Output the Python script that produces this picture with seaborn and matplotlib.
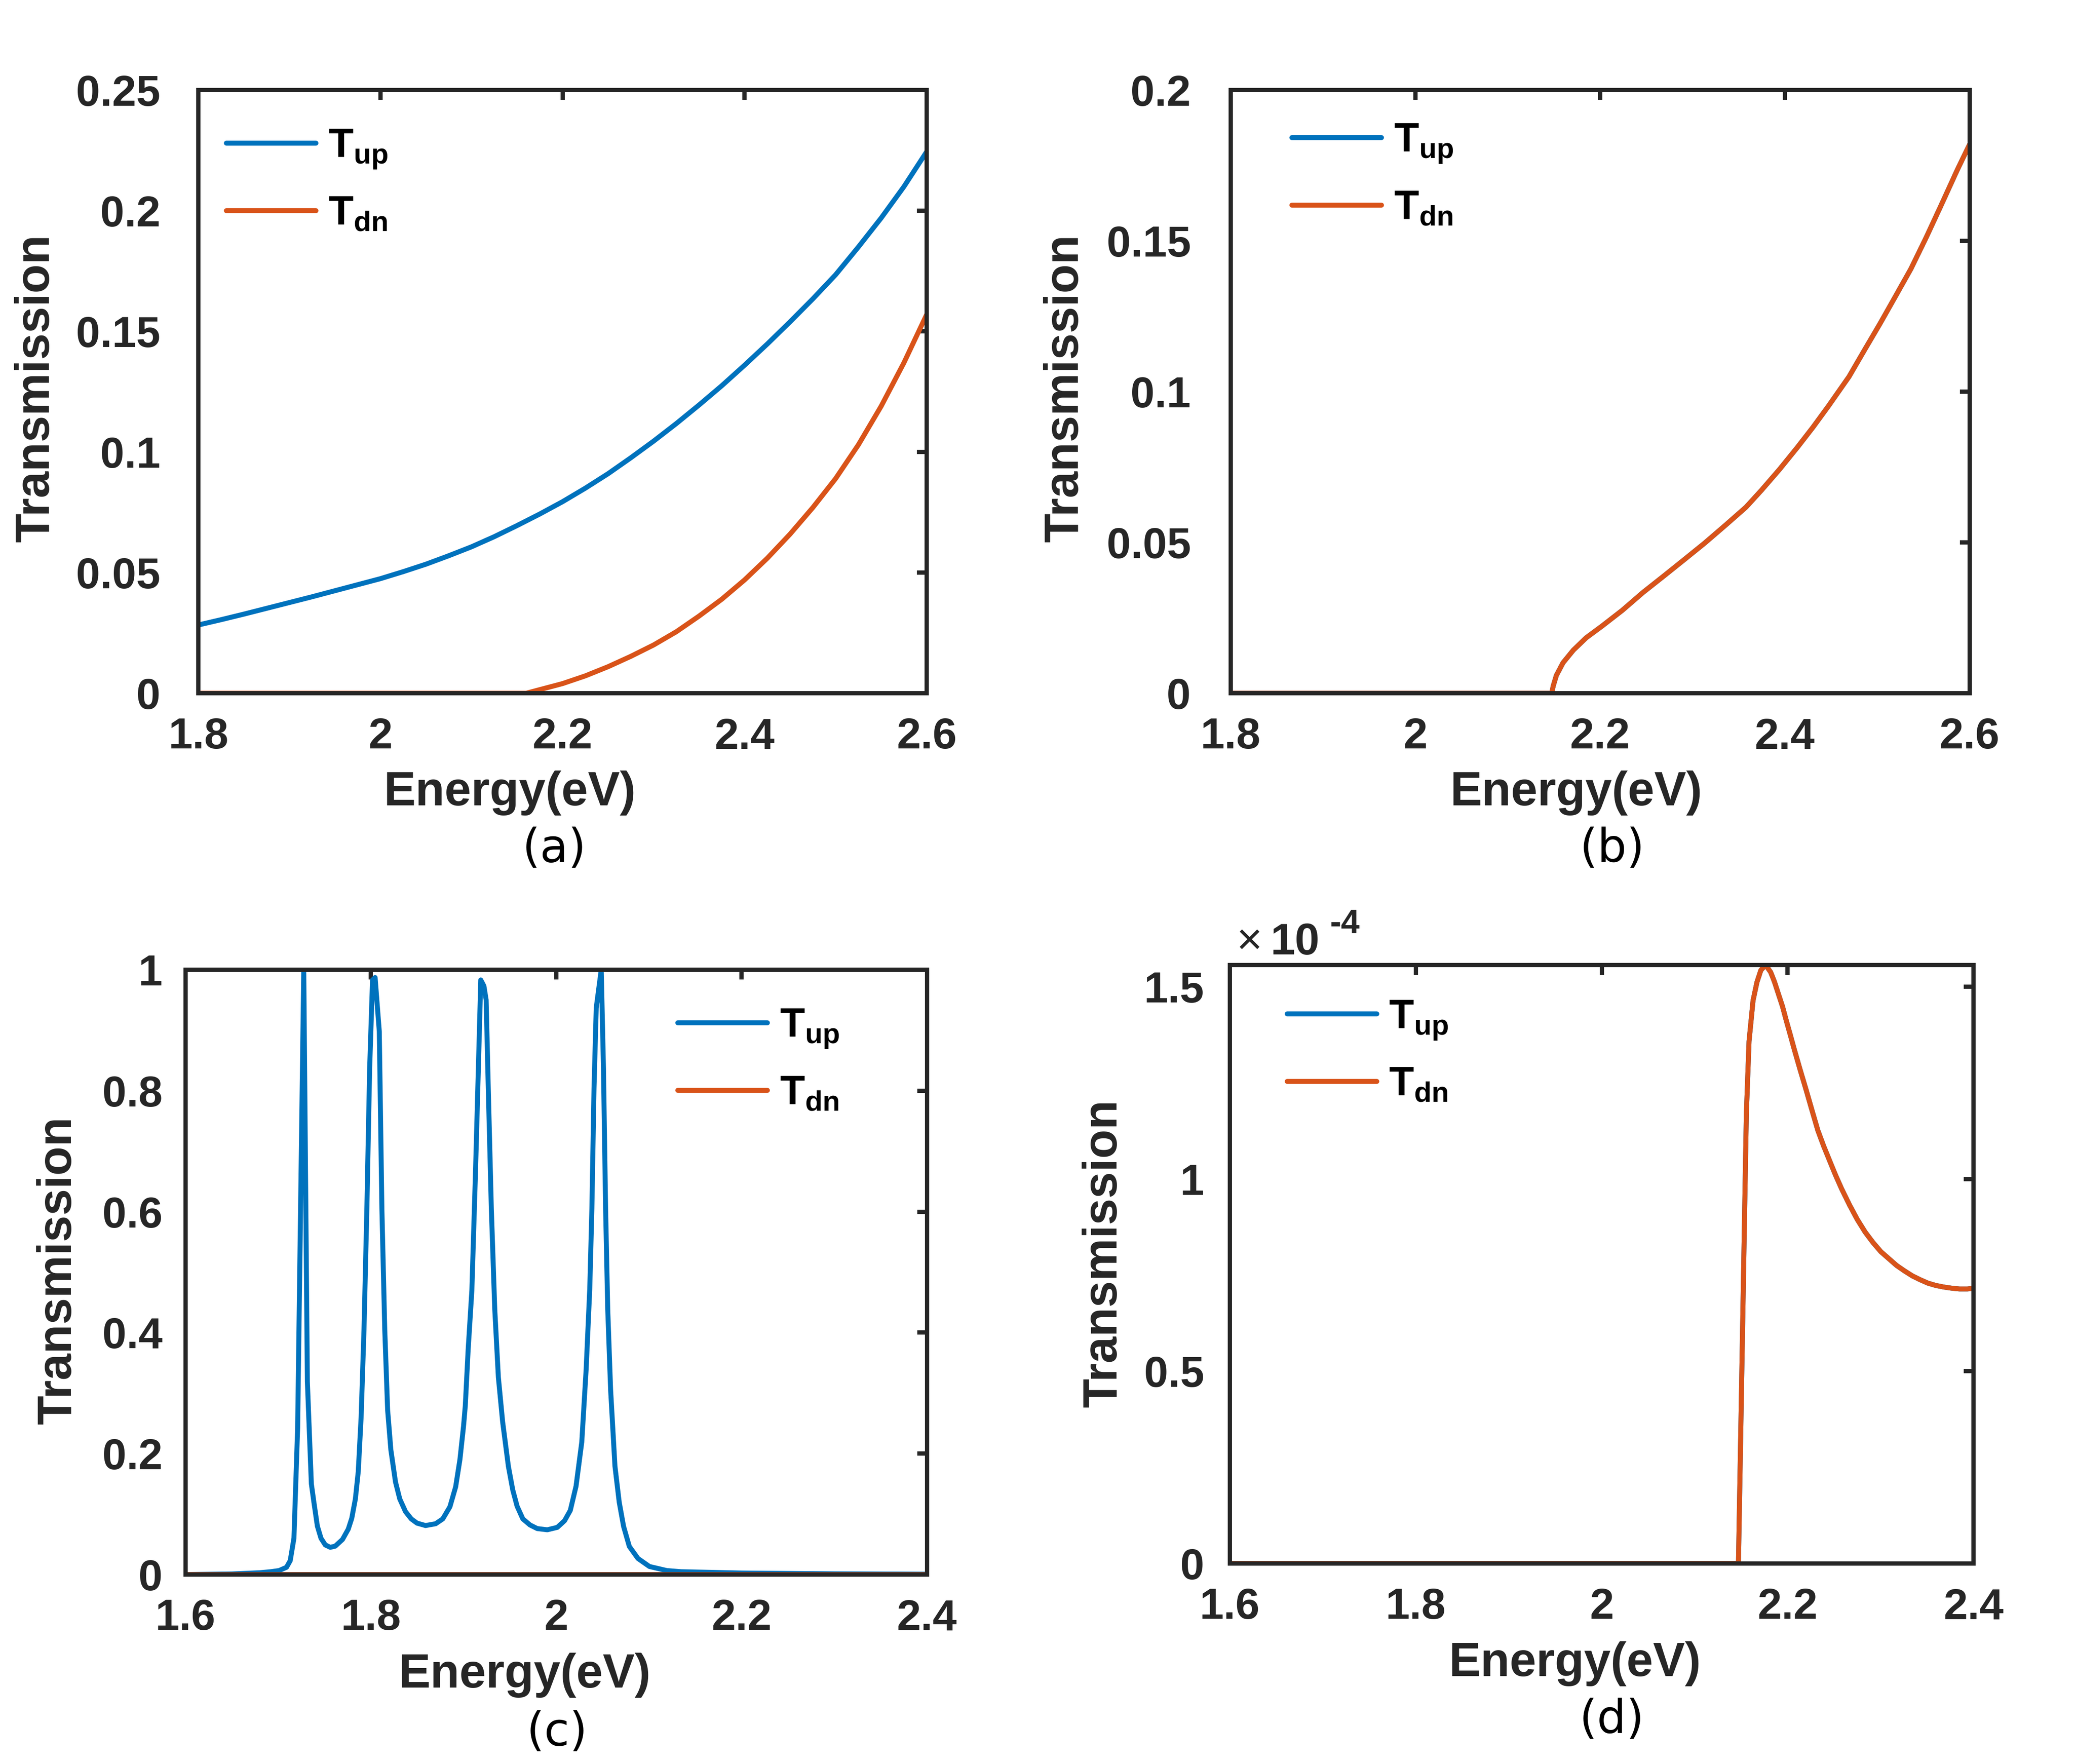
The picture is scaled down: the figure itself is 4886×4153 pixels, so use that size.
import matplotlib
matplotlib.use("Agg")
import matplotlib.pyplot as plt
import numpy as np
import pandas as pd
import seaborn as sns
from matplotlib.ticker import FuncFormatter

# ---- data ----
# (a) energy in eV, transmission
a_energy_up = [1.800, 1.825, 1.850, 1.875, 1.900, 1.925, 1.950, 1.975, 2.000, 2.025,
               2.050, 2.075, 2.100, 2.125, 2.150, 2.175, 2.200, 2.225, 2.250, 2.275,
               2.300, 2.325, 2.350, 2.375, 2.400, 2.425, 2.450, 2.475, 2.500, 2.525,
               2.550, 2.575, 2.600]
a_t_up = [0.0283, 0.0305, 0.0328, 0.0352, 0.0376, 0.0400, 0.0425, 0.0450, 0.0475, 0.0504,
          0.0535, 0.0570, 0.0607, 0.0649, 0.0695, 0.0743, 0.0794, 0.0850, 0.0910, 0.0976,
          0.1045, 0.1118, 0.1195, 0.1275, 0.1360, 0.1448, 0.1540, 0.1635, 0.1735, 0.1850,
          0.1970, 0.2100, 0.2245]
a_energy_dn = [1.800, 2.160, 2.175, 2.200, 2.225, 2.250, 2.275, 2.300, 2.325, 2.350,
               2.375, 2.400, 2.425, 2.450, 2.475, 2.500, 2.525, 2.550, 2.575, 2.600]
a_t_dn = [0.0, 0.0, 0.0015, 0.0040, 0.0072, 0.0110, 0.0153, 0.0200, 0.0255, 0.0320,
          0.0390, 0.0470, 0.0560, 0.0660, 0.0770, 0.0890, 0.1030, 0.1190, 0.1370, 0.1570]

# (b) both spins coincide
b_energy = [1.8000, 2.1476, 2.1492, 2.1526, 2.1598, 2.1710, 2.1849, 2.2017, 2.2240, 2.2463,
            2.2686, 2.2910, 2.3132, 2.3356, 2.3579, 2.3746, 2.3941, 2.4137, 2.4304, 2.4471,
            2.4695, 2.4862, 2.5029, 2.5197, 2.5364, 2.5531, 2.5699, 2.5866, 2.6000]
b_t_dn = [0.0, 0.0, 0.0024, 0.0059, 0.0101, 0.0143, 0.0184, 0.0222, 0.0275, 0.0334,
          0.0388, 0.0443, 0.0498, 0.0557, 0.0617, 0.0673, 0.0742, 0.0816, 0.0882, 0.0952,
          0.1050, 0.1138, 0.1225, 0.1316, 0.1407, 0.1512, 0.1623, 0.1735, 0.1820]
b_t_up = list(b_t_dn)

# (c) resonant peaks for spin up, spin down blocked
c_energy = [1.6000, 1.6500, 1.6800, 1.6920, 1.7010, 1.7090, 1.7130, 1.7170, 1.7210, 1.7276,
            1.7315, 1.7358, 1.7385, 1.7423, 1.7462, 1.7508, 1.7562, 1.7616, 1.7694, 1.7756,
            1.7794, 1.7833, 1.7864, 1.7895, 1.7926, 1.7957, 1.7987, 1.8018, 1.8046, 1.8091,
            1.8119, 1.8150, 1.8181, 1.8216, 1.8266, 1.8312, 1.8374, 1.8436, 1.8498, 1.8590,
            1.8699, 1.8776, 1.8853, 1.8915, 1.8961, 1.9000, 1.9019, 1.9050, 1.9090, 1.9130,
            1.9166, 1.9186, 1.9220, 1.9244, 1.9267, 1.9300, 1.9337, 1.9376, 1.9422, 1.9484,
            1.9531, 1.9578, 1.9640, 1.9717, 1.9795, 1.9904, 2.0012, 2.0090, 2.0152, 2.0214,
            2.0276, 2.0323, 2.0362, 2.0385, 2.0408, 2.0432, 2.0486, 2.0510, 2.0533, 2.0556,
            2.0587, 2.0634, 2.0680, 2.0727, 2.0789, 2.0882, 2.1006, 2.1193, 2.1348, 2.2000,
            2.3000, 2.4000]
c_t_up = [0.0000, 0.0010, 0.0030, 0.0047, 0.0066, 0.0120, 0.0230, 0.0600, 0.2425, 1.0000,
          0.3190, 0.1500, 0.1200, 0.0800, 0.0600, 0.0490, 0.0450, 0.0470, 0.0580, 0.0750,
          0.0930, 0.1250, 0.1700, 0.2600, 0.4050, 0.6050, 0.8370, 0.9830, 0.9870, 0.8980,
          0.6050, 0.4050, 0.2720, 0.2060, 0.1530, 0.1250, 0.1040, 0.0920, 0.0850, 0.0810,
          0.0840, 0.0920, 0.1120, 0.1450, 0.1900, 0.2450, 0.2790, 0.3720, 0.4700, 0.6700,
          0.8700, 0.9830, 0.9730, 0.9500, 0.8040, 0.6050, 0.4385, 0.3260, 0.2525, 0.1790,
          0.1400, 0.1130, 0.0920, 0.0820, 0.0760, 0.0740, 0.0780, 0.0890, 0.1060, 0.1460,
          0.2190, 0.3390, 0.4720, 0.6050, 0.8040, 0.9370, 1.0000, 0.8370, 0.6050, 0.4385,
          0.3056, 0.1790, 0.1196, 0.0797, 0.0465, 0.0266, 0.0133, 0.0066, 0.0047, 0.0025,
          0.0012, 0.0006]
c_energy_dn = [1.6, 2.4]
c_t_dn = [0.0, 0.0]

# (d) values in units of 1e-4, both spins coincide
d_energy = [1.6000, 2.1471, 2.1513, 2.1556, 2.1585, 2.1628, 2.1670, 2.1712, 2.1763, 2.1818,
            2.1860, 2.1903, 2.1945, 2.1987, 2.2030, 2.2072, 2.2135, 2.2199, 2.2262, 2.2326,
            2.2389, 2.2453, 2.2516, 2.2580, 2.2665, 2.2749, 2.2834, 2.2918, 2.3003, 2.3088,
            2.3173, 2.3257, 2.3342, 2.3426, 2.3511, 2.3596, 2.3680, 2.3765, 2.3850, 2.3934,
            2.4000]
d_t_dn = [0.000, 0.000, 0.576, 1.168, 1.358, 1.464, 1.512, 1.543, 1.557, 1.538,
          1.512, 1.480, 1.449, 1.411, 1.374, 1.337, 1.284, 1.232, 1.179, 1.126,
          1.085, 1.047, 1.010, 0.975, 0.933, 0.895, 0.862, 0.835, 0.811, 0.793,
          0.775, 0.761, 0.748, 0.738, 0.729, 0.723, 0.719, 0.716, 0.714, 0.714,
          0.716]
d_t_up = list(d_t_dn)

# ---- style ----
sns.set_style("white")
plt.rcParams["font.family"] = ["Liberation Sans", "DejaVu Sans"]
plt.rcParams["font.weight"] = "bold"
plt.rcParams["mathtext.fontset"] = "custom"
plt.rcParams["mathtext.bf"] = "Liberation Sans:bold"
plt.rcParams["mathtext.rm"] = "Liberation Sans:bold"

BLUE = "#0072BD"
ORANGE = "#D95319"
INK = "#262626"
LW = 2.8
UP = r"$\mathbf{T}_{\mathbf{up}}$"
DN = r"$\mathbf{T}_{\mathbf{dn}}$"

fig = plt.figure(figsize=(4886 / 300, 4153 / 300), dpi=300)
ax_a = fig.add_axes([0.0956, 0.6070, 0.3510, 0.3419])
ax_b = fig.add_axes([0.5931, 0.6070, 0.3561, 0.3419])
ax_c = fig.add_axes([0.0894, 0.1074, 0.3573, 0.3429])
ax_d = fig.add_axes([0.5927, 0.1137, 0.3584, 0.3393])


def draw(ax, x_up, y_up, x_dn, y_dn):
    sns.lineplot(x=x_up, y=y_up, color=BLUE, linewidth=LW, label=UP, ax=ax,
                 estimator=None, sort=False)
    sns.lineplot(x=x_dn, y=y_dn, color=ORANGE, linewidth=LW, label=DN, ax=ax,
                 estimator=None, sort=False)


def style(ax, xlim, ylim, xticks, yticks, legend_xy, ypad):
    ax.set_xlim(xlim)
    ax.set_ylim(ylim)
    ax.set_xticks(xticks)
    ax.set_yticks(yticks)
    fmt = FuncFormatter(lambda v, p: f"{v:g}")
    ax.xaxis.set_major_formatter(fmt)
    ax.yaxis.set_major_formatter(fmt)
    ax.tick_params(direction="in", length=5.5, width=2.4, color=INK,
                   labelcolor=INK, labelsize=24.5, top=True, right=True)
    ax.tick_params(axis="x", pad=13.5)
    ax.tick_params(axis="y", pad=ypad)
    for s in ax.spines.values():
        s.set_visible(True)
        s.set_linewidth(2.4)
        s.set_color(INK)
    ax.set_xlabel("")
    ax.set_ylabel("")
    leg = ax.legend(loc="upper left", bbox_to_anchor=legend_xy, frameon=False,
                    fontsize=23, handlelength=2.2, handletextpad=0.3,
                    labelspacing=0.6, borderpad=0, borderaxespad=0)
    for t in leg.get_texts():
        t.set_color("black")


draw(ax_a, a_energy_up, a_t_up, a_energy_dn, a_t_dn)
style(ax_a, (1.8, 2.6), (0, 0.25), [1.8, 2.0, 2.2, 2.4, 2.6],
      [0, 0.05, 0.10, 0.15, 0.20, 0.25], (0.0385, 0.938), 21.5)

draw(ax_b, b_energy, b_t_up, b_energy, b_t_dn)
style(ax_b, (1.8, 2.6), (0, 0.2), [1.8, 2.0, 2.2, 2.4, 2.6],
      [0, 0.05, 0.10, 0.15, 0.20], (0.083, 0.947), 22.5)

draw(ax_c, c_energy, c_t_up, c_energy_dn, c_t_dn)
style(ax_c, (1.6, 2.4), (0, 1), [1.6, 1.8, 2.0, 2.2, 2.4],
      [0, 0.2, 0.4, 0.6, 0.8, 1.0], (0.664, 0.938), 13)

draw(ax_d, d_energy, d_t_up, d_energy, d_t_dn)
style(ax_d, (1.6, 2.4), (0, 1.557), [1.6, 1.8, 2.0, 2.2, 2.4],
      [0, 0.5, 1.0, 1.5], (0.077, 0.944), 14.5)

# axis labels and panel letters placed as in the reference
label_kw = dict(fontsize=27, fontweight="bold", color=INK, ha="center", va="center")
for (x, y) in [(0.2456, 0.5504), (0.7597, 0.5504), (0.2529, 0.0503), (0.7589, 0.0568)]:
    fig.text(x, y, "Energy(eV)", **label_kw)
for (x, y) in [(0.0175, 0.780), (0.5135, 0.780), (0.0281, 0.280), (0.532, 0.2897)]:
    fig.text(x, y, "Transmission", rotation=90, **label_kw)
letter_kw = dict(fontsize=26, fontweight="normal", family="DejaVu Sans",
                 color="black", ha="center", va="center")
for (x, y, s) in [(0.2672, 0.5186, "(a)"), (0.777, 0.5186, "(b)"),
                  (0.2685, 0.0178, "(c)"), (0.7767, 0.0248, "(d)")]:
    fig.text(x, y, s, **letter_kw)

# exponent marker of panel (d)
fig.text(0.596, 0.459, "\u00d7", fontsize=25, fontweight="normal", color=INK,
         ha="left", va="baseline")
fig.text(0.6122, 0.459, "10", fontsize=25, fontweight="bold", color=INK,
         ha="left", va="baseline")
fig.text(0.641, 0.471, "-4", fontsize=19, fontweight="bold", color=INK,
         ha="left", va="baseline")

fig.savefig("out.png", dpi=300, facecolor="white")
